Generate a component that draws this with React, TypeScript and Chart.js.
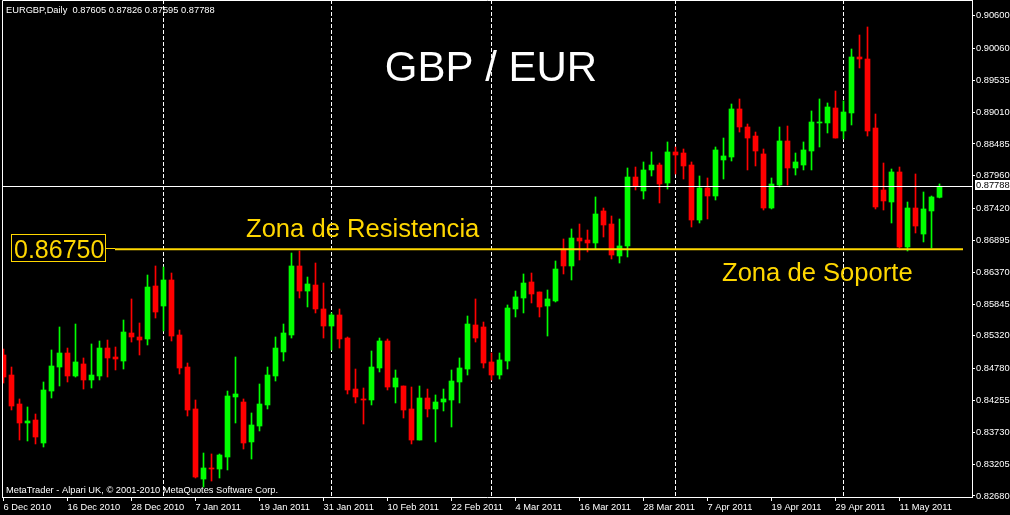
import React, { useEffect, useRef } from "react";
import { Chart, registerables } from "chart.js";

Chart.register(...registerables);

// ---------- data ----------
const symbolHeader = "EURGBP,Daily  0.87605 0.87826 0.87595 0.87788";
const footerText = "MetaTrader - Alpari UK, \u00A9 2001-2010 MetaQuotes Software Corp.";
const titleText = "GBP / EUR";
const resistanceText = "Zona de Resistencia";
const supportText = "Zona de Soporte";
const levelValue = 0.8675;

const xTickIndex = [0, 8, 16, 24, 32, 40, 48, 56, 64, 72, 80, 88, 96, 104, 112];
const xTickLabels = [
  "6 Dec 2010", "16 Dec 2010", "28 Dec 2010", "7 Jan 2011", "19 Jan 2011",
  "31 Jan 2011", "10 Feb 2011", "22 Feb 2011", "4 Mar 2011", "16 Mar 2011",
  "28 Mar 2011", "7 Apr 2011", "19 Apr 2011", "29 Apr 2011", "11 May 2011",
];
const monthStartIndex = [20, 41, 61, 84, 105];

const yTickValues = [
  0.906, 0.9006, 0.89535, 0.8901, 0.88485, 0.8796, 0.8742, 0.86895,
  0.8637, 0.85845, 0.8532, 0.8478, 0.84255, 0.8373, 0.83205, 0.8268,
];

const opens = [
  0.85005, 0.84675, 0.84197, 0.83884, 0.83933, 0.83554, 0.84411, 0.84807, 0.85038, 0.84659,
  0.84857, 0.84593, 0.84659, 0.8512, 0.84972, 0.84906, 0.85368, 0.85302, 0.85269, 0.86143,
  0.85813, 0.86242, 0.85335, 0.84807, 0.84115, 0.8296, 0.83142, 0.83125, 0.83323, 0.84313,
  0.8423, 0.83571, 0.83834, 0.84181, 0.84659, 0.85055, 0.85335, 0.86473, 0.8606, 0.86159,
  0.85764, 0.85483, 0.85665, 0.85285, 0.84444, 0.8428, 0.84263, 0.84791, 0.85236, 0.84477,
  0.84494, 0.84115, 0.83603, 0.84296, 0.84115, 0.8423, 0.84263, 0.8456, 0.84774, 0.855,
  0.85467, 0.8489, 0.84675, 0.84906, 0.85764, 0.85945, 0.86209, 0.86044, 0.85813, 0.85896,
  0.86737, 0.86473, 0.86934, 0.86901, 0.86852, 0.8738, 0.87165, 0.86638, 0.86803, 0.8794,
  0.8771, 0.88056, 0.88138, 0.87841, 0.88353, 0.88336, 0.88138, 0.87231, 0.87759, 0.87627,
  0.88221, 0.8827, 0.89062, 0.88765, 0.88616, 0.8832, 0.87429, 0.87808, 0.88534, 0.88089,
  0.88138, 0.88369, 0.88831, 0.88831, 0.89078, 0.88699, 0.88996, 0.89919, 0.89886, 0.88748,
  0.87726, 0.87528, 0.88023, 0.86786, 0.87429, 0.87, 0.8738, 0.87605,
];
const highs = [
  0.85104, 0.84807, 0.8428, 0.84148, 0.84032, 0.8456, 0.85088, 0.85467, 0.8512, 0.85516,
  0.84956, 0.85187, 0.85236, 0.85252, 0.85137, 0.85582, 0.85929, 0.85533, 0.86324, 0.86473,
  0.86456, 0.86357, 0.85417, 0.84873, 0.84263, 0.83389, 0.83373, 0.83373, 0.84411, 0.84972,
  0.8428, 0.84049, 0.84527, 0.84807, 0.85302, 0.85516, 0.86687, 0.8672, 0.86291, 0.86522,
  0.86192, 0.85698, 0.85764, 0.85302, 0.84774, 0.84461, 0.85071, 0.85285, 0.85269, 0.84758,
  0.84494, 0.84477, 0.84494, 0.84444, 0.84346, 0.84444, 0.84758, 0.84956, 0.85648, 0.85929,
  0.85549, 0.85038, 0.85038, 0.8583, 0.8606, 0.86341, 0.86357, 0.86044, 0.86077, 0.86555,
  0.86918, 0.87083, 0.87165, 0.87066, 0.87611, 0.87429, 0.87297, 0.87248, 0.88089, 0.88105,
  0.88188, 0.88353, 0.88171, 0.88518, 0.88435, 0.88402, 0.88188, 0.87957, 0.87924, 0.88435,
  0.88583, 0.89144, 0.89227, 0.88814, 0.88682, 0.88402, 0.87924, 0.88765, 0.88781, 0.88336,
  0.88518, 0.89029, 0.89227, 0.89161, 0.89358, 0.89194, 0.90051, 0.90282, 0.90414, 0.88979,
  0.88171, 0.88072, 0.88105, 0.87528, 0.8799, 0.87693, 0.87627, 0.87826,
];
const lows = [
  0.84543, 0.84098, 0.83603, 0.83587, 0.83538, 0.83488, 0.84296, 0.84494, 0.8456, 0.84642,
  0.84444, 0.84461, 0.84593, 0.84642, 0.84758, 0.84774, 0.85219, 0.85005, 0.8517, 0.85615,
  0.85401, 0.85236, 0.84692, 0.83999, 0.82977, 0.82828, 0.82927, 0.82977, 0.83109, 0.83884,
  0.83455, 0.8329, 0.83752, 0.84115, 0.84576, 0.84906, 0.85285, 0.85945, 0.85797, 0.85698,
  0.85285, 0.85088, 0.8512, 0.84362, 0.84214, 0.83867, 0.84181, 0.84725, 0.84428, 0.84214,
  0.83966, 0.83538, 0.83603, 0.83983, 0.83571, 0.84082, 0.83818, 0.84214, 0.84675, 0.85219,
  0.84791, 0.84593, 0.84609, 0.84774, 0.85632, 0.85698, 0.85863, 0.85632, 0.85318, 0.85879,
  0.86341, 0.86242, 0.86572, 0.86704, 0.86753, 0.86951, 0.86588, 0.86522, 0.86621, 0.87726,
  0.87578, 0.87957, 0.87512, 0.87742, 0.8799, 0.87907, 0.87116, 0.87182, 0.87248, 0.87561,
  0.87907, 0.88204, 0.88682, 0.88056, 0.88122, 0.87396, 0.87413, 0.87775, 0.87808, 0.87973,
  0.88056, 0.88056, 0.88435, 0.88666, 0.88583, 0.88567, 0.88798, 0.89738, 0.88616, 0.87413,
  0.87396, 0.87182, 0.8677, 0.8672, 0.87017, 0.86869, 0.8677, 0.87595,
];
const closes = [
  0.84642, 0.84164, 0.83884, 0.83917, 0.83653, 0.84428, 0.84824, 0.85038, 0.84659, 0.8489,
  0.84593, 0.84675, 0.8512, 0.84956, 0.84939, 0.85384, 0.85302, 0.85252, 0.86126, 0.85714,
  0.86242, 0.85318, 0.84791, 0.84098, 0.82993, 0.83142, 0.83125, 0.83356, 0.84329, 0.84362,
  0.83554, 0.83851, 0.84197, 0.84675, 0.8512, 0.85368, 0.86473, 0.8606, 0.86176, 0.85764,
  0.85483, 0.85665, 0.85269, 0.84428, 0.84313, 0.84263, 0.84807, 0.85236, 0.84477, 0.84626,
  0.84098, 0.83603, 0.84296, 0.84115, 0.8423, 0.8428, 0.84576, 0.84791, 0.85516, 0.85285,
  0.84873, 0.84675, 0.84923, 0.8578, 0.85962, 0.86192, 0.86011, 0.85797, 0.85929, 0.86423,
  0.86473, 0.86934, 0.86885, 0.86852, 0.8733, 0.87149, 0.86654, 0.86803, 0.8794, 0.87792,
  0.88056, 0.88138, 0.87825, 0.88353, 0.88303, 0.88122, 0.87231, 0.87759, 0.87627, 0.88386,
  0.88287, 0.89062, 0.88765, 0.88583, 0.88369, 0.87429, 0.87825, 0.88534, 0.88089, 0.88188,
  0.88386, 0.88847, 0.88847, 0.89095, 0.88583, 0.89012, 0.89919, 0.89886, 0.88699, 0.87446,
  0.87545, 0.88023, 0.86786, 0.87429, 0.87132, 0.87413, 0.87611, 0.87788,
];

// ---------- styling ----------
const UP = "#00FF00";
const DOWN = "#FF0000";
const GOLD = "#FFD700";
const FONT = "'Liberation Sans', Arial, sans-serif";

const lastClose = closes[closes.length - 1];

const overlayPlugin = {
  id: "mtOverlay",
  beforeDraw(chart: any) {
    const { ctx, width, height } = chart;
    ctx.save();
    ctx.fillStyle = "#000";
    ctx.fillRect(0, 0, width, height);
    ctx.restore();
  },
  beforeDatasetsDraw(chart: any) {
    const { ctx, chartArea, scales } = chart;
    ctx.save();
    ctx.strokeStyle = "#FFFFFF";
    ctx.lineWidth = 1;
    ctx.setLineDash([4, 2]);
    monthStartIndex.forEach((i) => {
      const x = Math.floor(scales.x.getPixelForValue(i)) + 0.5;
      ctx.beginPath();
      ctx.moveTo(x, chartArea.top);
      ctx.lineTo(x, chartArea.bottom);
      ctx.stroke();
    });
    ctx.restore();
  },
  afterDatasetsDraw(chart: any) {
    const { ctx, chartArea, scales } = chart;
    const y = scales.y;
    ctx.save();
    // frame
    ctx.strokeStyle = "#FFFFFF";
    ctx.lineWidth = 1;
    ctx.beginPath();
    ctx.moveTo(chartArea.left + 0.5, chartArea.bottom);
    ctx.lineTo(chartArea.left + 0.5, chartArea.top + 0.5);
    ctx.lineTo(chartArea.right, chartArea.top + 0.5);
    ctx.stroke();
    // current price line
    const py = Math.round(y.getPixelForValue(lastClose)) + 0.5;
    ctx.beginPath();
    ctx.moveTo(chartArea.left, py);
    ctx.lineTo(chartArea.right, py);
    ctx.stroke();
    // support / resistance level
    const ly = y.getPixelForValue(levelValue);
    ctx.strokeStyle = GOLD;
    ctx.lineWidth = 2;
    ctx.beginPath();
    ctx.moveTo(115, ly);
    ctx.lineTo(963, ly);
    ctx.stroke();
    ctx.lineWidth = 1;
    ctx.beginPath();
    ctx.moveTo(105, Math.round(ly) - 0.5);
    ctx.lineTo(115, Math.round(ly) - 0.5);
    ctx.stroke();
    // level label box
    ctx.fillStyle = "#000";
    ctx.fillRect(11, 234, 95, 28);
    ctx.strokeRect(11.5, 234.5, 94, 27);
    ctx.fillStyle = GOLD;
    ctx.font = `25px ${FONT}`;
    ctx.textBaseline = "alphabetic";
    ctx.textAlign = "left";
    ctx.fillText(levelValue.toFixed(5), 14, 258);
    // zone labels
    ctx.font = `25.6px ${FONT}`;
    ctx.fillText(resistanceText, 246, 237);
    ctx.fillText(supportText, 722, 281);
    // title
    ctx.fillStyle = "#FFFFFF";
    ctx.font = `42px ${FONT}`;
    ctx.textAlign = "center";
    ctx.fillText(titleText, 491, 81);
    // header & footer
    ctx.textAlign = "left";
    ctx.font = `9.3px ${FONT}`;
    ctx.fillText(symbolHeader, 6, 13);
    ctx.fillText(footerText, 6, 493);
    ctx.restore();
  },
  afterDraw(chart: any) {
    const { ctx, chartArea, scales } = chart;
    const y = Math.round(scales.y.getPixelForValue(lastClose));
    ctx.save();
    ctx.fillStyle = "#FFFFFF";
    ctx.fillRect(chartArea.right + 3, y - 6, 40, 10);
    ctx.fillStyle = "#000";
    ctx.font = `9.3px ${FONT}`;
    ctx.textBaseline = "middle";
    ctx.textAlign = "left";
    ctx.fillText(lastClose.toFixed(5), chartArea.right + 4, y - 1);
    ctx.restore();
  },
};

export default function App() {
  const ref = useRef<HTMLCanvasElement>(null);

  useEffect(() => {
    document.body.style.margin = "0";
    document.body.style.background = "#000";
    const idx = opens.map((_, i) => i);
    const colors = idx.map((i) => (closes[i] >= opens[i] ? UP : DOWN));
    const wickData = idx.map((i) => ({ x: i, y: [lows[i], highs[i]] }));
    const bodyData = idx.map((i) => ({
      x: i,
      y: [Math.min(opens[i], closes[i]), Math.max(opens[i], closes[i])],
    }));

    const chart = new Chart(ref.current as HTMLCanvasElement, {
      type: "bar",
      data: {
        datasets: [
          {
            label: "body",
            data: bodyData as any,
            backgroundColor: colors,
            borderWidth: 0,
            barThickness: 5,
            minBarLength: 1,
            grouped: false,
          } as any,
          {
            label: "wick",
            data: wickData as any,
            backgroundColor: colors,
            borderWidth: 0,
            barThickness: 1,
            minBarLength: 1,
            grouped: false,
          } as any,
        ],
      },
      options: {
        animation: false,
        responsive: false,
        devicePixelRatio: 1,
        events: [],
        layout: { padding: { left: 2, right: 0, top: 0, bottom: 0 } },
        plugins: {
          legend: { display: false },
          tooltip: { enabled: false },
          title: { display: false },
        },
        scales: {
          x: {
            type: "linear",
            position: "bottom",
            offset: false,
            min: -0.1875,
            max: 121.0625,
            afterBuildTicks: (scale: any) => {
              scale.ticks = xTickIndex.map((v) => ({ value: v }));
            },
            afterFit: (scale: any) => {
              scale.height = 18;
              scale.paddingLeft = 0;
              scale.paddingRight = 0;
            },
            ticks: {
              autoSkip: false,
              maxRotation: 0,
              minRotation: 0,
              align: "start",
              padding: 1,
              color: "#FFFFFF",
              font: { family: FONT, size: 9.3 },
              callback: (_v: any, i: number) => xTickLabels[i],
            },
            grid: {
              display: true,
              drawOnChartArea: false,
              drawTicks: true,
              tickLength: 4,
              color: "#FFFFFF",
              offset: false,
            },
            border: { display: true, color: "#FFFFFF", width: 1 },
          },
          y: {
            type: "linear",
            position: "right",
            min: 0.826635,
            max: 0.908589,
            afterBuildTicks: (scale: any) => {
              scale.ticks = yTickValues.map((v) => ({ value: v }));
            },
            afterFit: (scale: any) => {
              scale.width = 38;
              scale.paddingTop = 0;
              scale.paddingBottom = 0;
            },
            ticks: {
              padding: 1,
              color: "#FFFFFF",
              font: { family: FONT, size: 9.3 },
              callback: (v: any) => Number(v).toFixed(5),
            },
            grid: {
              display: true,
              drawOnChartArea: false,
              drawTicks: true,
              tickLength: 3,
              color: "#FFFFFF",
            },
            border: { display: true, color: "#FFFFFF", width: 1 },
          },
        },
      },
      plugins: [overlayPlugin],
    } as any);

    return () => chart.destroy();
  }, []);

  return (
    <div style={{ position: "absolute", left: 0, top: 0, width: 1010, height: 515, background: "#000" }}>
      <canvas ref={ref} width={1010} height={515} style={{ display: "block", width: 1010, height: 515 }} />
    </div>
  );
}
